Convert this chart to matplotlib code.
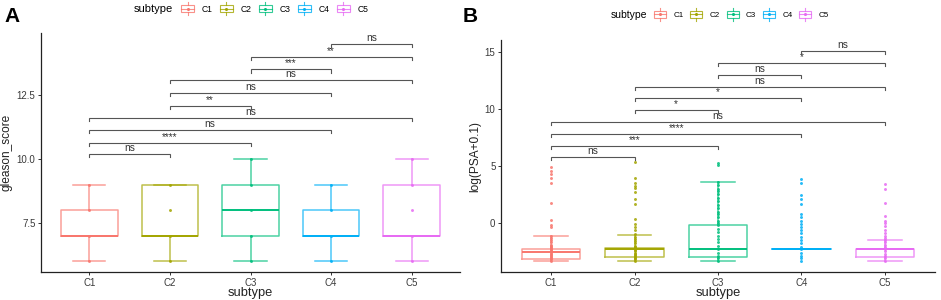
import matplotlib
matplotlib.use("Agg")
import matplotlib.pyplot as plt
from matplotlib.patches import Rectangle
from matplotlib.lines import Line2D
from matplotlib.legend_handler import HandlerBase

plt.rcParams['font.family'] = ['Liberation Sans', 'DejaVu Sans']

# ---------------- data ----------------
categories = ["C1", "C2", "C3", "C4", "C5"]
colors = ["#F8766D", "#A3A500", "#00BF7D", "#00B0F6", "#E76BF3"]

# Panel A: gleason_score box statistics
A_whislo = [6, 6, 6, 6, 6]
A_q1 = [7, 7, 7, 7, 7]
A_med = [7, 7, 8, 7, 7]
A_q3 = [8, 9, 9, 8, 9]
A_whishi = [9, 9, 10, 9, 10]
A_points = [[6, 7, 8, 9], [6, 7, 8, 9], [6, 7, 8, 9, 10], [6, 7, 8, 9], [6, 7, 8, 9, 10]]
A_yticks = [7.5, 10.0, 12.5]
A_sig = ["ns", "****", "ns", "ns", "**", "ns", "ns", "***", "**", "ns"]
A_bracket_y = [10.2, 10.63, 11.13, 11.6, 12.07, 12.58, 13.09, 13.5, 13.98, 14.49]

# Panel B: log(PSA+0.1) box statistics
B_whislo = [-3.33, -3.33, -3.33, -2.31, -3.33]
B_q1 = [-3.19, -2.95, -2.95, -2.31, -2.95]
B_med = [-2.57, -2.28, -2.31, -2.31, -2.31]
B_q3 = [-2.31, -2.16, -0.18, -2.31, -2.31]
B_whishi = [-1.11, -1.05, 3.6, -2.31, -1.52]
B_points = [
    [4.88, 4.59, 4.3, 3.92, 3.48, 1.78, 0.26, -0.18, -0.38, -1.1, -1.3, -1.5, -1.7,
     -1.9, -2.0, -2.1, -2.2, -2.3, -2.4, -2.5, -2.6, -2.7, -2.8, -2.9, -3.0, -3.1, -3.2, -3.3],
    [5.32, 3.92, 3.48, 3.25, 3.04, 2.69, 2.08, 1.67, 0.32, -0.09, -0.38, -0.61, -1.0,
     -1.2, -1.4, -1.6, -1.8, -2.0, -2.1, -2.2, -2.3, -2.4, -2.5, -2.6, -2.7, -2.8, -2.9, -3.0,
     -3.1, -3.2, -3.3],
    [5.29, 5.09, 3.6, 3.3, 3.0, 2.8, 2.5, 2.2, 1.9, 1.6, 1.3, 1.0, 0.8, 0.5, 0.2, 0.0,
     -0.2, -0.5, -0.8, -1.1, -1.4, -1.7, -2.0, -2.3, -2.6, -2.9, -3.1, -3.3],
    [3.83, 3.48, 2.46, 2.08, 1.67, 0.79, 0.56, 0.18, -0.09, -0.38, -0.61, -0.91, -1.26,
     -1.49, -1.78, -2.08, -2.3, -2.6, -2.9, -3.1, -3.3],
    [3.39, 2.96, 1.73, 0.64, 0.2, -0.03, -0.26, -0.61, -0.91, -1.14, -1.35, -1.5, -1.7,
     -1.9, -2.1, -2.3, -2.5, -2.7, -2.9, -3.1, -3.3],
]
B_yticks = [0, 5, 10, 15]
B_sig = ["ns", "***", "****", "ns", "*", "*", "ns", "ns", "*", "ns"]
B_bracket_y = [5.79, 6.75, 7.8, 8.86, 9.9, 10.96, 11.93, 12.98, 14.04, 15.09]

pairs = [(1, 2), (1, 3), (1, 4), (1, 5), (2, 3), (2, 4), (2, 5), (3, 4), (3, 5), (4, 5)]

# ---------------- figure ----------------
W, H = 941, 300
fig = plt.figure(figsize=(W / 100, H / 100), dpi=100)


def px_axes(l, t, r, b):
    return fig.add_axes([l / W, 1 - b / H, (r - l) / W, (b - t) / H])


axA = px_axes(41, 33, 460, 272)
axB = px_axes(501, 40, 935, 272)

TICKC = "#3a3a3a"
BRC = "#555555"


def draw_panel(ax, whislo, q1, med, q3, whishi, pts, ylim, yticks, yfmt, ylabel,
               sig, by, ylab_x, axh_px):
    stats = []
    for i in range(len(categories)):
        stats.append(dict(whislo=whislo[i], q1=q1[i], med=med[i], q3=q3[i],
                          whishi=whishi[i], fliers=[]))
    pos = list(range(1, len(categories) + 1))
    bp = ax.bxp(stats, positions=pos, widths=0.7, capwidths=0.4, showfliers=False,
                patch_artist=False)
    for i, c in enumerate(colors):
        bp['boxes'][i].set(color=c, lw=1.1, alpha=0.7)
        bp['medians'][i].set(color=c, lw=1.4, alpha=1.0)
        for j in (2 * i, 2 * i + 1):
            bp['whiskers'][j].set(color=c, lw=1.1, alpha=0.7)
            bp['caps'][j].set(color=c, lw=1.1, alpha=0.7)
        ax.scatter([pos[i]] * len(pts[i]), pts[i], s=4.5, color=c, lw=0, alpha=0.85,
                   zorder=3)
    ax.set_xlim(0.4, 5.6)
    ax.set_ylim(*ylim)
    ax.set_xticks(pos)
    ax.set_xticklabels(categories)
    ax.set_yticks(yticks)
    ax.set_yticklabels([yfmt.format(v) for v in yticks])
    for s in ("top", "right"):
        ax.spines[s].set_visible(False)
    for s in ("left", "bottom"):
        ax.spines[s].set_color("#222222")
        ax.spines[s].set_linewidth(0.9)
    ax.tick_params(axis="both", length=2.5, width=0.7, color="#333333",
                   labelcolor=TICKC, labelsize=7.0, pad=1.5)
    ax.set_xlabel("subtype", fontsize=9.3, color="#222222")
    ax.xaxis.set_label_coords(0.5, -21 / axh_px)
    ax.xaxis.label.set_va("center")
    ax.set_ylabel(ylabel, fontsize=8.6, color="#222222")
    ax.yaxis.set_label_coords(ylab_x, 0.5)
    ax.yaxis.label.set_va("center")
    # significance brackets
    tip = 3.3 * (ylim[1] - ylim[0]) / axh_px
    for (a, b), lab, yy in zip(pairs, sig, by):
        ax.plot([a, a, b, b], [yy - tip, yy, yy, yy - tip], color=BRC, lw=0.8,
                solid_joinstyle="miter", zorder=4)
        ax.annotate(lab, xy=((a + b) / 2, yy), xytext=(0, 2.2), textcoords="offset points",
                    ha="center", va="baseline", fontsize=7.3, color="#333333")


draw_panel(axA, A_whislo, A_q1, A_med, A_q3, A_whishi, A_points, (5.59, 14.92),
           A_yticks, "{:.1f}", "gleason_score", A_sig, A_bracket_y, -34 / 419, 239)
draw_panel(axB, B_whislo, B_q1, B_med, B_q3, B_whishi, B_points, (-4.3, 16.05),
           B_yticks, "{:g}", "log(PSA+0.1)", B_sig, B_bracket_y, -26 / 434, 232)

# panel letters
fig.text(12.5 / W, 1 - 16.5 / H, "A", fontsize=15, fontweight="bold", ha="center", va="center")
fig.text(470 / W, 1 - 16 / H, "B", fontsize=15, fontweight="bold", ha="center", va="center")


# legends
class BoxKey(HandlerBase):
    def create_artists(self, legend, orig, xd, yd, w, h, fs, trans):
        c = orig.get_color()
        x0, y0 = -xd, -yd
        arts = [
            Rectangle((x0, y0 + 0.05 * h), w, 0.9 * h, fill=False, ec=c, lw=0.8,
                      alpha=0.8, transform=trans),
            Line2D([x0, x0 + w], [y0 + 0.5 * h] * 2, color=c, lw=0.8, alpha=0.8,
                   transform=trans),
            Line2D([x0 + w / 2] * 2, [y0 - 0.35 * h, y0 + 0.05 * h], color=c, lw=0.8,
                   alpha=0.8, transform=trans),
            Line2D([x0 + w / 2] * 2, [y0 + 0.95 * h, y0 + 1.35 * h], color=c, lw=0.8,
                   alpha=0.8, transform=trans),
            Line2D([x0 + w / 2], [y0 + 0.5 * h], marker="o", ms=1.2, color=c, lw=0,
                   transform=trans),
        ]
        return arts


def add_legend(title_x, key_x, yc, scale):
    fs = 6.2 * scale
    fig.text(title_x / W, 1 - yc / H, "subtype", fontsize=8.0 * scale, ha="left", va="center")
    handles = [Line2D([], [], color=c) for c in colors]
    em = fs * 100 / 72
    leg = fig.legend(handles, categories, loc="center left",
                     bbox_to_anchor=(key_x / W, 1 - yc / H), ncol=5, frameon=False,
                     fontsize=fs, borderpad=0, borderaxespad=0,
                     handlelength=13 * scale / em, handleheight=1.0,
                     handletextpad=8 * scale / em, columnspacing=7.0 * scale / em,
                     handler_map={Line2D: BoxKey()})
    return leg


add_legend(134, 181, 9, 1.0)
add_legend(611, 654, 15, 0.93)

fig.savefig("out.png", dpi=100)
